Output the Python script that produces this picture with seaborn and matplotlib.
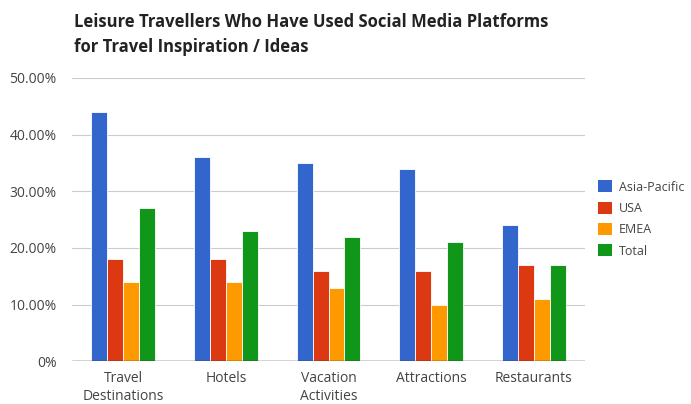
import matplotlib
matplotlib.use("Agg")
import matplotlib.pyplot as plt
import seaborn as sns
import pandas as pd
from matplotlib.patches import Patch

categories = ["Travel\nDestinations", "Hotels", "Vacation\nActivities", "Attractions", "Restaurants"]
series = ["Asia-Pacific", "USA", "EMEA", "Total"]
asia_pacific = [44, 36, 35, 34, 24]
usa = [18, 18, 16, 16, 17]
emea = [14, 14, 13, 10, 11]
total = [27, 23, 22, 21, 17]
colors = ["#3366cc", "#dc3912", "#ff9900", "#109618"]
yticks = [0, 10, 20, 30, 40, 50]
ytick_labels = ["0%", "10.00%", "20.00%", "30.00%", "40.00%", "50.00%"]

rows = []
for s, vals in zip(series, [asia_pacific, usa, emea, total]):
    for c, v in zip(categories, vals):
        rows.append({"category": c, "series": s, "value": v})
df = pd.DataFrame(rows)

sns.set_style("white")
plt.rcParams["font.family"] = ["Open Sans", "DejaVu Sans"]

fig = plt.figure(figsize=(6.91, 4.04), dpi=100)
ax = fig.add_axes([0.104, 0.106, 0.743, 0.701])

sns.barplot(data=df, x="category", y="value", hue="series", order=categories,
            hue_order=series, palette=colors, width=0.62, ax=ax, legend=False,
            edgecolor="white", linewidth=0.6, saturation=1)

ax.set_ylim(0, 50)
ax.set_xlim(-0.5, len(categories) - 0.5)
ax.set_yticks(yticks)
ax.set_yticklabels(ytick_labels)
ax.set_xlabel("")
ax.set_ylabel("")
ax.yaxis.grid(True, color="#cccccc", linewidth=0.8)
ax.set_axisbelow(True)
for sp in ax.spines.values():
    sp.set_visible(False)
ax.axhline(0, color="#333333", linewidth=1.0)
ax.tick_params(axis="y", length=0, pad=11, labelsize=10, labelcolor="#444444")
ax.tick_params(axis="x", length=0, pad=7, labelsize=10, labelcolor="#444444")
for lbl in ax.get_xticklabels():
    lbl.set_linespacing(1.3)

fig.text(0.107, 0.915, "Leisure Travellers Who Have Used Social Media Platforms\nfor Travel Inspiration / Ideas",
         fontsize=12, fontweight="bold", color="#222222", va="center", ha="left", linespacing=1.5)

handles = [Patch(facecolor=c, edgecolor="none") for c in colors]
leg = fig.legend(handles, series, loc="center left", bbox_to_anchor=(0.858, 0.458),
                 frameon=False, fontsize=9, handlelength=1.1, handleheight=1.1,
                 handletextpad=0.6, labelspacing=0.65, borderaxespad=0)
for t in leg.get_texts():
    t.set_color("#444444")

fig.savefig("out.png", dpi=100)
